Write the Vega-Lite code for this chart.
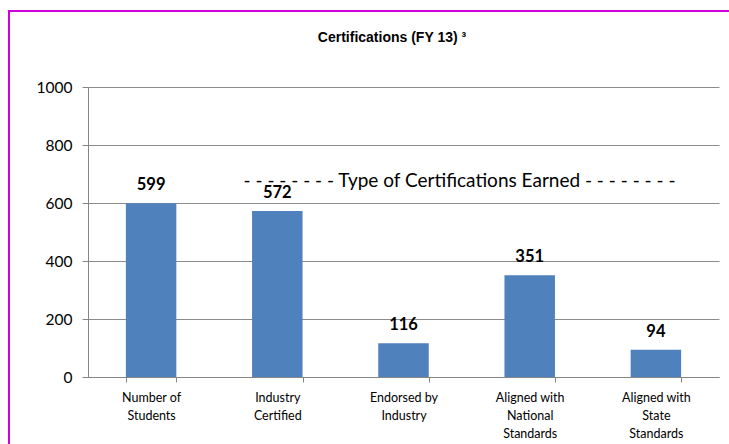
{
  "$schema": "https://vega.github.io/schema/vega-lite/v6.json",
  "width": 766,
  "height": 440,
  "autosize": {"type": "none"},
  "padding": {"left": 9, "top": 11, "right": 0, "bottom": 0},
  "background": "white",
  "config": {
    "view": {"stroke": "#D000D8", "strokeWidth": 2},
    "font": "Lato"
  },
  "title": {
    "text": "Certifications (FY 13) ³",
    "font": "Liberation Sans",
    "fontSize": 14,
    "fontWeight": "bold",
    "color": "black",
    "dy": 38
  },
  "datasets": {
    "bars": [
      {"category": "Number of|Students", "value": 599},
      {"category": "Industry|Certified", "value": 572},
      {"category": "Endorsed by|Industry", "value": 116},
      {"category": "Aligned with|National|Standards", "value": 351},
      {"category": "Aligned with|State|Standards", "value": 94}
    ],
    "note": [
      {"category": "Endorsed by|Industry", "value": 676, "text": "- - - - - - - - Type of Certifications Earned - - - - - - - -"}
    ]
  },
  "layer": [
    {
      "data": {"name": "bars"},
      "mark": {"type": "bar", "color": "#4F81BD"},
      "encoding": {
        "x": {
          "field": "category",
          "type": "nominal",
          "sort": null,
          "scale": {"type": "band", "range": [79, 710], "paddingInner": 0.6, "paddingOuter": 0.3},
          "axis": {
            "title": null,
            "offset": -74,
            "labelAngle": 0,
            "labelExpr": "split(datum.label, '|')",
            "labelFont": "Lato",
            "labelFontSize": 12.5,
            "labelColor": "black",
            "labelLineHeight": 18,
            "labelPadding": 9,
            "tickBand": "extent",
            "tickSize": 5,
            "tickColor": "#868686",
            "domainColor": "#868686"
          }
        },
        "y": {
          "field": "value",
          "type": "quantitative",
          "scale": {"domain": [0, 1000], "range": [366, 76], "nice": false},
          "axis": {
            "title": null,
            "offset": -79,
            "values": [0, 200, 400, 600, 800, 1000],
            "format": "d",
            "labelFont": "Lato",
            "labelFontSize": 15.5,
            "labelColor": "black",
            "labelPadding": 10,
            "tickSize": 6,
            "tickColor": "#868686",
            "domainColor": "#868686",
            "gridColor": "#8C8C8C",
            "grid": true
          }
        }
      }
    },
    {
      "data": {"name": "bars"},
      "mark": {"type": "text", "font": "Lato", "fontSize": 16.5, "fontWeight": "bold", "color": "black", "baseline": "alphabetic", "dy": -13},
      "encoding": {
        "x": {"field": "category", "type": "nominal", "sort": null},
        "y": {"field": "value", "type": "quantitative"},
        "text": {"field": "value", "type": "quantitative"}
      }
    },
    {
      "data": {"name": "note"},
      "mark": {"type": "text", "font": "Lato", "fontSize": 19, "color": "black", "baseline": "middle", "dx": 56},
      "encoding": {
        "x": {"field": "category", "type": "nominal", "sort": null},
        "y": {"field": "value", "type": "quantitative"},
        "text": {"field": "text"}
      }
    }
  ]
}
